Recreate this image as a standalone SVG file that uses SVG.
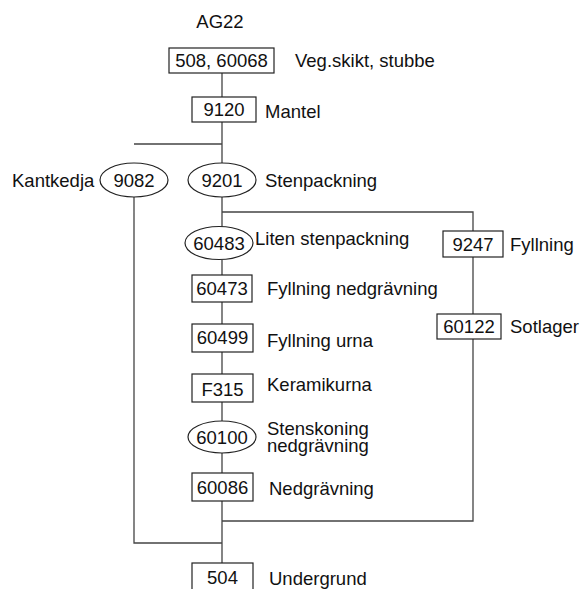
<svg xmlns="http://www.w3.org/2000/svg" width="583" height="589" viewBox="0 0 583 589">
  <style>
    text { font-family: "Liberation Sans", Arial, sans-serif; font-size: 18.5px; fill: #111; }
    .id { text-anchor: middle; }
    .box { fill: #fff; stroke: #222; stroke-width: 1.2; }
    .conn { fill: none; stroke: #444; stroke-width: 1.3; }
  </style>
  <rect width="583" height="589" fill="#fff"/>
  <text x="220" y="28" class="id">AG22</text>

  <g id="connectors">
    <path class="conn" d="M222 73 V97 M222 122 V144 M134 144 H222 V163 M222 197 V212 H473 V231 M222 212 V227 M222 260 V275 M222 302 V324 M222 352 V374 M222 402 V421 M222 453 V473 M222 501 V563 M134 197 V543 H222 M473 257 V314 M473 339 V521 H222"/>
  </g>

  <g id="n508"><rect class="box" x="169" y="48" width="105" height="25"/><text x="221.5" y="67" class="id">508, 60068</text><text x="295" y="67">Veg.skikt, stubbe</text></g>
  <g id="n9120"><rect class="box" x="192" y="97" width="64" height="25"/><text x="224" y="116" class="id">9120</text><text x="265" y="118">Mantel</text></g>
  <g id="n9082"><ellipse class="box" cx="134" cy="180" rx="34" ry="17"/><text x="134" y="187" class="id">9082</text><text x="12" y="187">Kantkedja</text></g>
  <g id="n9201"><ellipse class="box" cx="222" cy="180" rx="34" ry="17"/><text x="222" y="187" class="id">9201</text><text x="265" y="187">Stenpackning</text></g>
  <g id="n60483"><ellipse class="box" cx="219" cy="243" rx="34" ry="16.5"/><text x="219" y="250" class="id">60483</text><text x="255" y="245">Liten stenpackning</text></g>
  <g id="n9247"><rect class="box" x="443" y="231" width="60" height="26"/><text x="473" y="251" class="id">9247</text><text x="510" y="251">Fyllning</text></g>
  <g id="n60473"><rect class="box" x="192" y="275" width="60" height="27"/><text x="222" y="295" class="id">60473</text><text x="267" y="295">Fyllning nedgrävning</text></g>
  <g id="n60122"><rect class="box" x="437" y="314" width="64" height="25"/><text x="469" y="333" class="id">60122</text><text x="510" y="333">Sotlager</text></g>
  <g id="n60499"><rect class="box" x="192" y="324" width="61" height="28"/><text x="222.5" y="344" class="id">60499</text><text x="267" y="347">Fyllning urna</text></g>
  <g id="n315"><rect class="box" x="192" y="374" width="61" height="28"/><text x="222.5" y="396" class="id">F315</text><text x="267" y="391">Keramikurna</text></g>
  <g id="n60100"><ellipse class="box" cx="222" cy="437" rx="34" ry="16"/><text x="222" y="444" class="id">60100</text><text x="267" y="435">Stenskoning<tspan x="267" dy="17">nedgrävning</tspan></text></g>
  <g id="n60086"><rect class="box" x="192" y="473" width="61" height="28"/><text x="222.5" y="494" class="id">60086</text><text x="269" y="495">Nedgrävning</text></g>
  <g id="n504"><rect class="box" x="192" y="563" width="61" height="40"/><text x="222.5" y="584" class="id">504</text><text x="269" y="585">Undergrund</text></g>
</svg>
